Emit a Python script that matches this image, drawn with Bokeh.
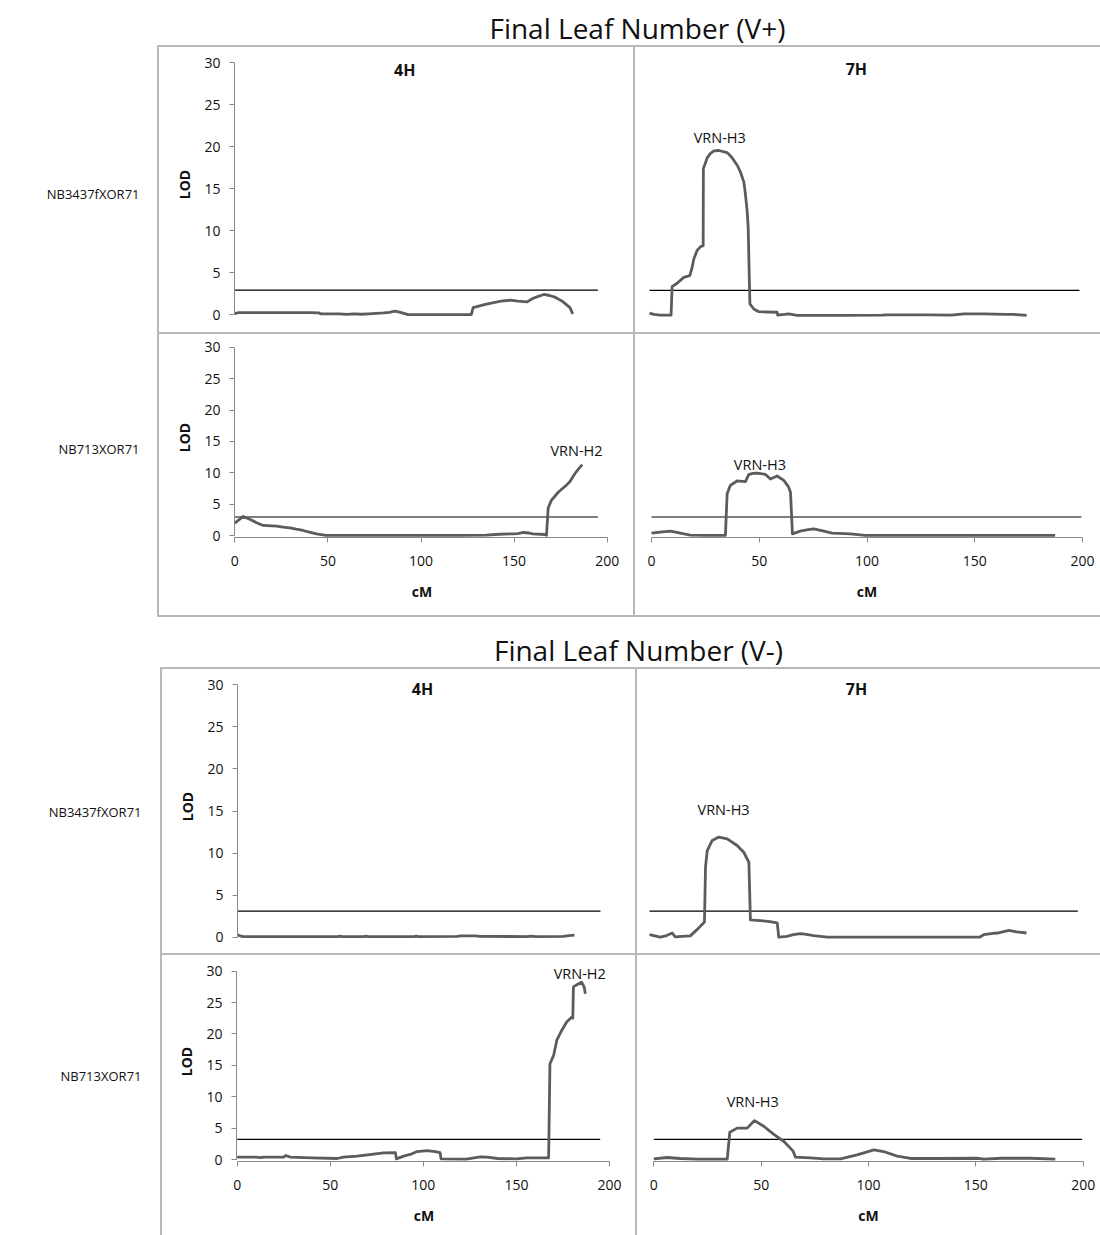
import math
from bokeh.plotting import figure
from bokeh.layouts import column, row
from bokeh.models import Range1d, LinearAxis, FixedTicker
from bokeh.core.properties import value
from bokeh.embed import file_html
from bokeh.resources import INLINE

# ---------------- data ----------------
BLOCK_TITLES = ["Final Leaf Number (V+)", "Final Leaf Number (V-)"]
ROW_LABELS = ["NB3437fXOR71", "NB713XOR71"]
CHROMOSOMES = ["4H", "7H"]
X_LABEL = "cM"
Y_LABEL = "LOD"
Y_TICKS = [0, 5, 10, 15, 20, 25, 30]
X_TICKS = [0, 50, 100, 150, 200]

# V+ , NB3437fXOR71, 4H
vp_a_4h_cm = [0, 2, 10, 20, 30, 40, 45, 46, 52, 56, 60, 64, 68, 72, 76, 80, 83, 86, 89, 93, 100, 110, 120, 127,
              128, 130, 134, 139, 143, 148, 152, 157, 160, 163, 166, 169, 172, 176, 180, 181.5]
vp_a_4h_lod = [0.15, 0.25, 0.26, 0.26, 0.26, 0.25, 0.24, 0.13, 0.12, 0.12, 0.06, 0.12, 0.07, 0.12, 0.18, 0.24, 0.3,
               0.43, 0.3, 0.03, 0.02, 0.02, 0.02, 0.02, 0.85, 0.98, 1.22, 1.46, 1.62, 1.74, 1.62, 1.54, 1.94, 2.2,
               2.42, 2.3, 2.1, 1.6, 0.85, 0.12]
# V+ , NB3437fXOR71, 7H
vp_a_7h_cm = [0, 2, 5, 10, 10.5, 12.8, 15.9, 18.7, 19.8, 20.6, 22.1, 23.7, 24.9, 25.0, 26.8, 28.3, 29.9, 32.2, 36.0,
              37.6, 39.1, 40.7, 42.2, 43.8, 44.5, 45.3, 45.8, 46.2, 46.6, 48.4, 50.7, 59.2, 59.5, 64.6, 68.5, 90,
              108, 110, 130, 140, 146, 155, 165, 169, 172, 175]
vp_a_7h_lod = [0.25, 0.1, 0.02, 0.02, 3.4, 3.8, 4.5, 4.7, 5.7, 6.7, 7.7, 8.15, 8.26, 17.4, 18.7, 19.2, 19.5, 19.55,
               19.3, 18.9, 18.4, 17.8, 17.0, 15.8, 14.4, 12.4, 10.4, 5.7, 1.35, 0.75, 0.43, 0.36, 0.02, 0.16, 0.0,
               0.0, 0.02, 0.05, 0.05, 0.02, 0.16, 0.16, 0.12, 0.1, 0.05, 0.0]
# V+ , NB713XOR71, 4H
vp_b_4h_cm = [0, 4.5, 8, 12, 15.2, 22.4, 26, 29.5, 33, 36.7, 40, 43.9, 49, 60, 80, 100, 120, 135, 142, 149.5, 152,
              155, 158, 160, 166.5, 167.4, 168.3, 170, 172, 173.7, 176, 178, 180, 182.6, 184.5, 186.6]
vp_b_4h_lod = [1.97, 3.04, 2.6, 2.0, 1.6, 1.5, 1.35, 1.23, 1.0, 0.8, 0.55, 0.27, 0.02, 0.02, 0.02, 0.02, 0.02, 0.05,
               0.2, 0.27, 0.3, 0.48, 0.4, 0.27, 0.16, 0.02, 4.4, 5.6, 6.3, 6.9, 7.5, 8.0, 8.6, 9.85, 10.6, 11.3]
# V+ , NB713XOR71, 7H
vp_b_7h_cm = [0, 4, 8.8, 13.4, 18, 25, 34.3, 35.1, 36.6, 39.7, 43.6, 45.1, 47, 49, 52.9, 55.2, 58.3, 61.4, 63.5,
              64.5, 65.4, 69, 72, 75.3, 80, 83.8, 92.3, 99.2, 120, 150, 187.3]
vp_b_7h_lod = [0.37, 0.53, 0.7, 0.37, 0.05, 0.02, 0.02, 6.66, 8.0, 8.7, 8.6, 9.7, 9.9, 9.96, 9.75, 9.0, 9.5, 8.8,
               7.8, 6.9, 0.27, 0.7, 0.9, 1.07, 0.7, 0.37, 0.27, 0.02, 0.02, 0.02, 0.02]
# V- , NB3437fXOR71, 4H
vm_a_4h_cm = [0, 1, 3, 20, 40, 54, 55, 56, 68, 69, 70, 95, 96, 97, 118, 120, 128, 130, 155, 158, 160, 175, 178, 181]
vm_a_4h_lod = [0.3, 0.2, 0.08, 0.08, 0.08, 0.08, 0.14, 0.08, 0.08, 0.14, 0.08, 0.08, 0.14, 0.08, 0.1, 0.16, 0.16,
               0.1, 0.08, 0.14, 0.08, 0.1, 0.18, 0.25]
# V- , NB3437fXOR71, 7H
vm_a_7h_cm = [0, 2, 5, 8, 10.6, 12, 15, 19, 22, 25.6, 26.1, 26.9, 29.2, 32.3, 36.2, 40.8, 43.9, 46.3, 47, 50, 53,
              56, 59.5, 60.2, 64, 67, 70.3, 73, 76.5, 82.8, 100, 130, 154, 155.7, 160, 162, 167.4, 171, 175.6]
vm_a_7h_lod = [0.3, 0.2, 0.0, 0.2, 0.5, 0.05, 0.1, 0.16, 0.87, 1.8, 8.4, 10.3, 11.5, 11.9, 11.7, 10.9, 10.1, 8.9,
               2.05, 2.0, 1.95, 1.85, 1.7, 0.0, 0.1, 0.3, 0.42, 0.35, 0.2, 0.0, 0.0, 0.0, 0.02, 0.3, 0.45, 0.5, 0.8,
               0.63, 0.5]
# V- , NB713XOR71, 4H
vm_b_4h_cm = [0, 10, 13, 14, 25, 26, 28.6, 40, 53.7, 57, 64.4, 70, 78.7, 85, 85.5, 89.4, 93, 96.6, 102, 106.4, 109,
              109.5, 123, 130.6, 134, 140, 150, 155.6, 167.3, 168, 170, 171.7, 174.4, 177, 179.8, 180.3, 180.6,
              183.4, 185, 186.4, 187]
vm_b_4h_lod = [0.37, 0.37, 0.3, 0.37, 0.37, 0.64, 0.37, 0.27, 0.16, 0.37, 0.53, 0.74, 1.06, 1.1, 0.1, 0.53, 0.8,
               1.27, 1.43, 1.27, 1.1, 0.1, 0.05, 0.42, 0.37, 0.16, 0.1, 0.27, 0.27, 15.2, 16.6, 19.0, 20.6, 21.9,
               22.7, 22.5, 27.5, 28.0, 28.25, 27.5, 26.4]
# V- , NB713XOR71, 7H
vm_b_7h_cm = [0, 6.2, 12.4, 20, 34.2, 35.4, 38.8, 43.5, 46.9, 51.2, 55.9, 60.6, 64.9, 66, 73, 79, 87, 94.7, 102.5,
              107, 113.4, 119.6, 130, 150.6, 153.7, 162, 175.5, 187]
vm_b_7h_lod = [0.1, 0.32, 0.16, 0.05, 0.05, 4.35, 5.0, 5.0, 6.2, 5.3, 4.0, 2.87, 1.33, 0.37, 0.27, 0.1, 0.1, 0.74,
               1.54, 1.27, 0.53, 0.16, 0.16, 0.2, 0.05, 0.2, 0.2, 0.05]

# LOD significance thresholds (TL, TR, BL, BR) and their cM extent (left, right)
thresholds_vp = [2.95, 2.95, 2.95, 2.95]
thresholds_vm = [3.1, 3.1, 3.2, 3.2]
threshold_end_cm = [195, 199.5]

# QTL labels per panel (None = no label)
qtl_vp = [None, "VRN-H3", "VRN-H2", "VRN-H3"]
qtl_vm = [None, "VRN-H3", "VRN-H2", "VRN-H3"]

# ---------------- layout / style ----------------
FONT = "Open Sans"
CURVE_COLOR = "#5c5c5c"
BORDER_COLOR = "#b8b8b8"
BW = 2
AXIS_COLOR = "#888888"
TEXT_COLOR = "#111111"

# label positions in data coordinates (cM, LOD)
title_pos = {("V+", 0): (91.3, 29.2), ("V+", 1): (96, 29.2), ("V-", 0): (99.4, 29.45), ("V-", 1): (96.4, 29.45)}
qtl_pos = {("V+", 1): (32.6, 21.1), ("V+", 2): (183.5, 13.6), ("V+", 3): (50.3, 11.4),
           ("V-", 1): (34.5, 15.2), ("V-", 2): (184.0, 29.6), ("V-", 3): (46.1, 9.3)}


def css(borders, color):
    st = {"box-sizing": "border-box"}
    if "L" in borders:
        st["border-left"] = f"{BW}px solid {color}"
    if "T" in borders:
        st["border-top"] = f"{BW}px solid {color}"
    if "B" in borders:
        st["border-bottom"] = f"{BW}px solid {color}"
    return st


def panel(box, ox, oy, sx, sy, borders, has_x, has_y, xs, ys, thr, thr_end, key, idx, qtl):
    bx0, by0, bx1, by1 = box
    bl = BW if "L" in borders else 0
    bt = BW if "T" in borders else 0
    W = bx1 - bx0               # figure (canvas) size
    H = by1 - by0
    cx0 = bx0 + bl              # canvas origin sits inside the css border
    cy0 = by0 + bt
    xlo = 0.0 if has_y else -1.0
    ylo = -0.25 if has_x else -0.45
    fl = math.floor(ox + xlo * sx)
    fr = math.ceil(ox + 201 * sx)
    ft = math.floor(oy - 31.5 * sy)
    fb = math.ceil(oy - ylo * sy)
    geo = dict(H=H, mbt=ft - cy0, mbb=cy0 + H - fb, cy0=cy0, borders=borders.replace("L", ""))
    p = figure(width=W, height=H, title=None,
               x_range=Range1d((fl - ox) / sx, (fr - ox) / sx),
               y_range=Range1d((oy - fb) / sy, (oy - ft) / sy),
               min_border_left=fl - cx0, min_border_right=cx0 + W - fr,
               min_border_top=ft - cy0, min_border_bottom=cy0 + H - fb,
               x_axis_location=None, y_axis_location=None,
               toolbar_location=None, output_backend="svg", styles=css(borders, BORDER_COLOR))
    p.outline_line_color = None
    p.background_fill_color = "white"
    p.border_fill_color = "white"
    p.grid.visible = False
    if has_y:
        ya = LinearAxis(ticker=FixedTicker(ticks=Y_TICKS), bounds=(0, 30), axis_label=Y_LABEL)
        p.add_layout(ya, "left")
    if has_x:
        xa = LinearAxis(ticker=FixedTicker(ticks=X_TICKS), bounds=(0, 200), axis_label=X_LABEL)
        p.add_layout(xa, "below")
    for ax in p.axis:
        ax.axis_line_color = AXIS_COLOR
        ax.major_tick_line_color = AXIS_COLOR
        ax.minor_tick_line_color = None
        ax.major_tick_in = 0
        ax.major_tick_out = 5
        ax.major_label_text_font = FONT
        ax.major_label_text_font_size = "14px"
        ax.major_label_text_color = TEXT_COLOR
        ax.axis_label_text_font = FONT
        ax.axis_label_text_font_size = "14px"
        ax.axis_label_text_font_style = "bold"
        ax.axis_label_text_color = TEXT_COLOR
    for ax in p.yaxis:
        ax.major_label_standoff = 9
        ax.axis_label_standoff = 7
    for ax in p.xaxis:
        ax.major_label_standoff = 13
        ax.axis_label_standoff = 13

    p.line([0, thr_end], [thr, thr], line_color="black", line_width=1.2)
    p.line(xs, ys, line_color=CURVE_COLOR, line_width=2.8, line_join="round")

    if idx < 2:
        tx, ty = title_pos[(key, idx)]
        p.text(x=[tx], y=[ty], text=[CHROMOSOMES[idx]], text_font=value(FONT), text_font_size="16px",
               text_font_style="bold", text_align="center", text_baseline="middle", text_color=TEXT_COLOR)
    if qtl:
        qx, qy = qtl_pos[(key, idx)]
        p.text(x=[qx], y=[qy], text=[qtl], text_font=value(FONT), text_font_size="14.5px",
               text_align="center", text_baseline="middle", text_color=TEXT_COLOR)
    return p, geo


def row_label(width, geo, x_right, y_center, txt):
    # same vertical geometry as the panels of the row, so that the frames line up
    top_abs = geo["cy0"] + geo["mbt"]
    bot_abs = geo["cy0"] + geo["H"] - geo["mbb"]
    p = figure(width=width, height=geo["H"], title=None,
               x_range=Range1d(0, width), y_range=Range1d(bot_abs, top_abs),
               min_border_left=0, min_border_right=0,
               min_border_top=geo["mbt"], min_border_bottom=geo["mbb"],
               x_axis_location=None, y_axis_location=None, toolbar_location=None,
               output_backend="svg", styles=css(geo["borders"], "white"))
    p.outline_line_color = None
    p.grid.visible = False
    p.text(x=[x_right], y=[y_center], text=[txt], text_font=value(FONT), text_font_size="13px",
           text_align="right", text_baseline="middle", text_color=TEXT_COLOR)
    return p


def title_fig(top, height, x_center, y_center, txt):
    p = figure(width=1100, height=height, title=None,
               x_range=Range1d(0, 1100), y_range=Range1d(top + height, top), min_border=0,
               x_axis_location=None, y_axis_location=None, toolbar_location=None, output_backend="svg")
    p.outline_line_color = None
    p.grid.visible = False
    p.text(x=[x_center], y=[y_center], text=[txt], text_font=value(FONT), text_font_size="28px",
           text_align="center", text_baseline="middle", text_color=TEXT_COLOR)
    return p


curves_vp = [(vp_a_4h_cm, vp_a_4h_lod), (vp_a_7h_cm, vp_a_7h_lod), (vp_b_4h_cm, vp_b_4h_lod), (vp_b_7h_cm, vp_b_7h_lod)]
curves_vm = [(vm_a_4h_cm, vm_a_4h_lod), (vm_a_7h_cm, vm_a_7h_lod), (vm_b_4h_cm, vm_b_4h_lod), (vm_b_7h_cm, vm_b_7h_lod)]

# block V+
b1 = [
    dict(box=(157, 45, 633, 332), ox=234.3, oy=314.3, sx=1.862, sy=8.43, borders="LT", has_x=False, has_y=True),
    dict(box=(633, 45, 1100, 332), ox=649.0, oy=314.8, sx=2.155, sy=8.43, borders="LT", has_x=False, has_y=False),
    dict(box=(157, 332, 633, 617), ox=234.3, oy=535.0, sx=1.862, sy=6.267, borders="LTB", has_x=True, has_y=True),
    dict(box=(633, 332, 1100, 617), ox=651.0, oy=535.0, sx=2.155, sy=6.267, borders="LTB", has_x=True, has_y=False),
]
b2 = [
    dict(box=(160, 667, 635, 953), ox=237.0, oy=936.7, sx=1.8615, sy=8.444, borders="LT", has_x=False, has_y=True),
    dict(box=(635, 667, 1100, 953), ox=649.0, oy=937.7, sx=2.147, sy=8.444, borders="LT", has_x=False, has_y=False),
    dict(box=(160, 953, 635, 1235), ox=236.7, oy=1159.0, sx=1.8615, sy=6.278, borders="LT", has_x=True, has_y=True),
    dict(box=(635, 953, 1100, 1235), ox=653.3, oy=1159.0, sx=2.147, sy=6.278, borders="LT", has_x=True, has_y=False),
]


def build(cfgs, curves, thrs, qtls, key):
    figs, geos = [], []
    for i, c in enumerate(cfgs):
        xs, ys = curves[i]
        p, g = panel(c["box"], c["ox"], c["oy"], c["sx"], c["sy"], c["borders"], c["has_x"], c["has_y"],
                     xs, ys, thrs[i], threshold_end_cm[i % 2], key, i, qtls[i])
        figs.append(p)
        geos.append(g)
    return figs, geos


f1, g1 = build(b1, curves_vp, thresholds_vp, qtl_vp, "V+")
f2, g2 = build(b2, curves_vm, thresholds_vm, qtl_vm, "V-")

title1 = title_fig(0, 45, 637, 27.0, BLOCK_TITLES[0])
title2 = title_fig(617, 50, 638, 649.0, BLOCK_TITLES[1])

lab1a = row_label(157, g1[0], 139, 193.5, ROW_LABELS[0])
lab1b = row_label(157, g1[2], 139, 448.7, ROW_LABELS[1])
lab2a = row_label(160, g2[0], 141, 811, ROW_LABELS[0])
lab2b = row_label(160, g2[2], 141, 1075, ROW_LABELS[1])

layout = column(
    title1,
    row(lab1a, f1[0], f1[1]),
    row(lab1b, f1[2], f1[3]),
    title2,
    row(lab2a, f2[0], f2[1]),
    row(lab2b, f2[2], f2[3]),
)

open("out.html", "w").write(file_html(layout, INLINE))
